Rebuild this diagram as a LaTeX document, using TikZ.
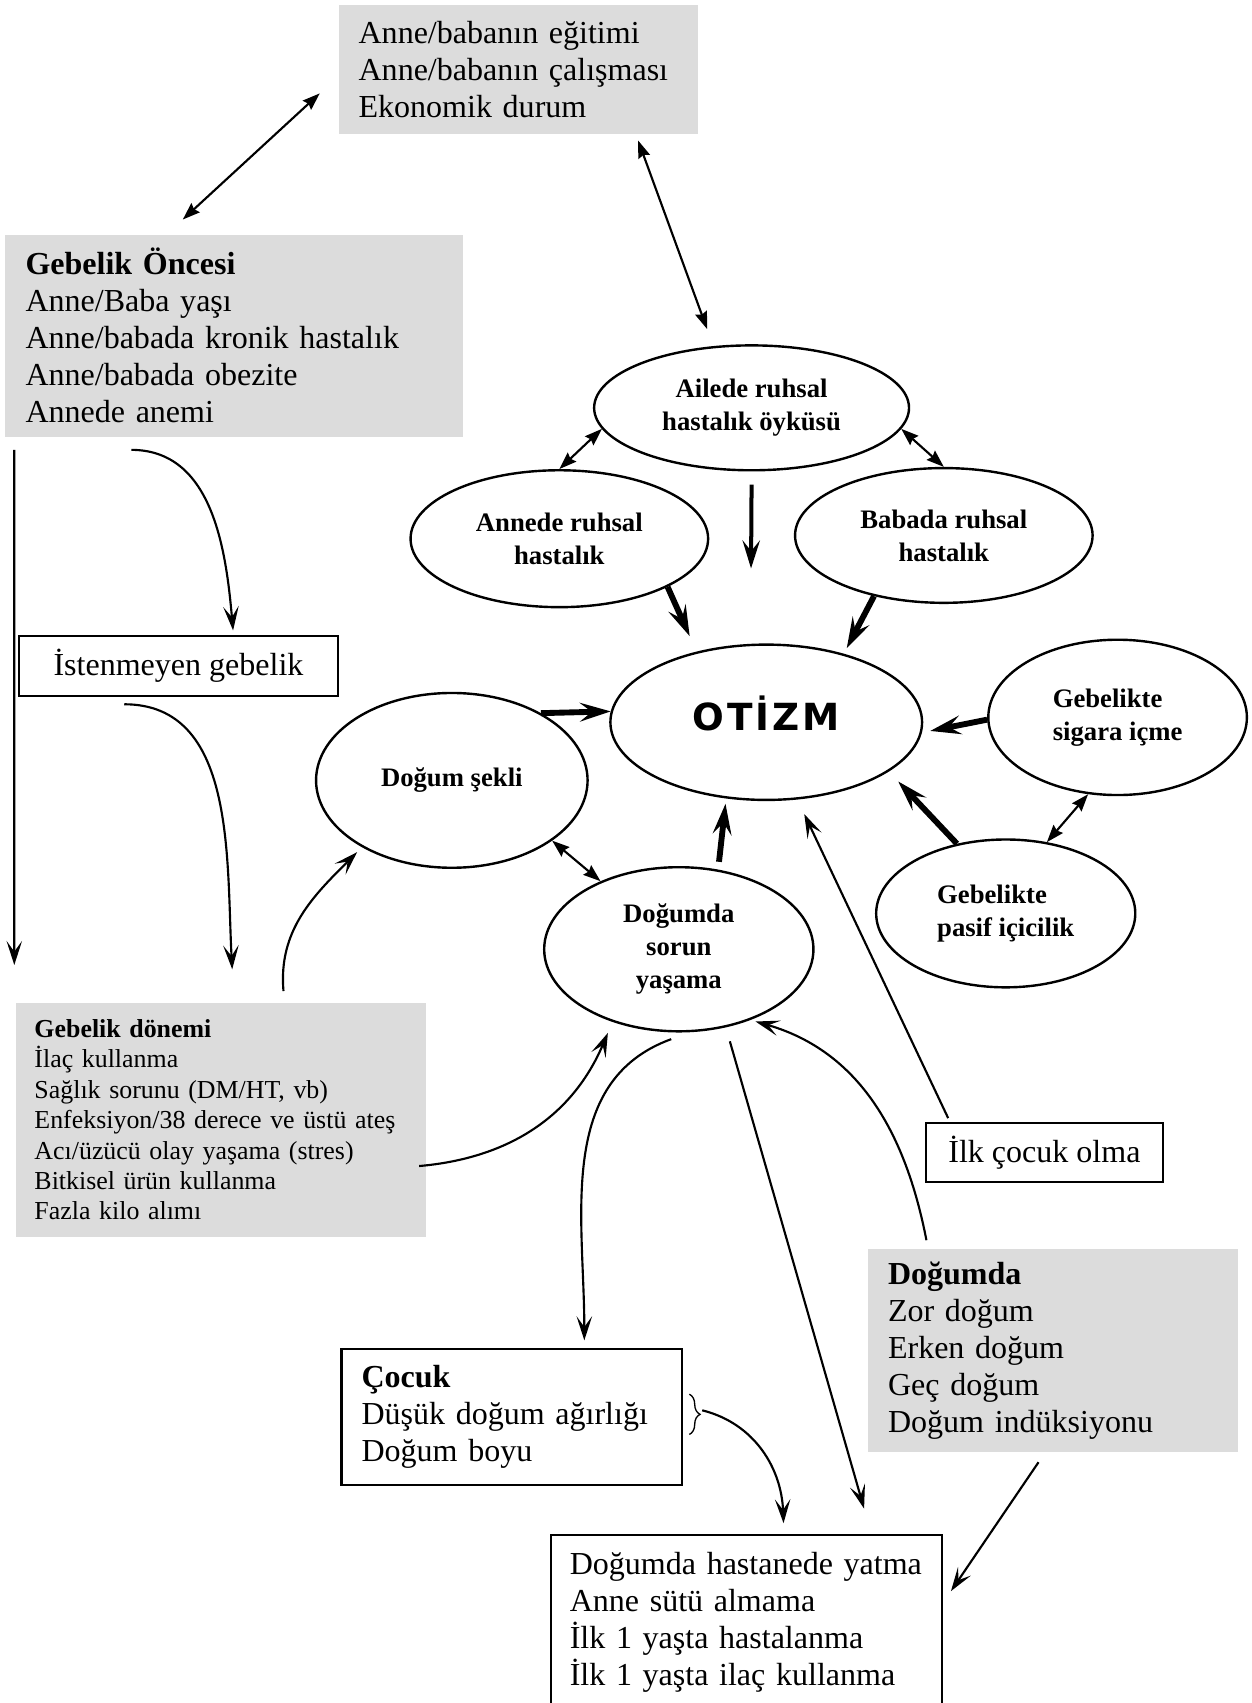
\documentclass[tikz,border=0pt]{standalone}
\usepackage{fontspec}
\setmainfont{Liberation Serif}
\newfontfamily\otizmfont[LetterSpace=8]{DejaVu Sans}
\usepackage{tikz}
\usetikzlibrary{shapes.geometric,arrows.meta,decorations.pathreplacing}
\definecolor{boxgray}{RGB}{220,220,220}
\newcommand{\pxu}{0.407pt}

\begin{document}
\begin{tikzpicture}[x=\pxu, y=\pxu,
  graybox/.style={fill=boxgray, inner xsep=7.5pt, inner ysep=0pt, align=left,
    font=\fontsize{12}{13.84}\selectfont},
  linebox/.style={draw, line width=0.8pt, inner sep=0pt,
    font=\fontsize{12}{13.84}\selectfont},
  oval/.style={ellipse, draw, line width=0.9pt, inner sep=0pt, align=center,
    font=\fontsize{10}{12.4}\selectfont\bfseries},
  twoway/.style={{Stealth[length=6.5pt,width=4.6pt,inset=0.8pt]}-{Stealth[length=6.5pt,width=4.6pt,inset=0.8pt]},
    line width=0.8pt},
  boldarrow/.style={-{Stealth[length=11.5pt,width=7pt,inset=4.4pt]}, line width=2.2pt},
  flow/.style={-{Stealth[length=9pt,width=5.8pt,inset=4pt]}, line width=0.8pt}]

  \useasboundingbox (0,0) rectangle (1152,-1568);

  % Boxes

  \node[graybox, text width=119.5pt, minimum height=48.4pt] (aile) at (477,-64.2)
    {Anne/babanın eğitimi\\Anne/babanın çalışması\\Ekonomik durum};
  \node[graybox, text width=156.3pt, minimum height=75.7pt] (oncesi) at (215.5,-309)
    {\textbf{Gebelik Öncesi}\\Anne/Baba yaşı\\Anne/babada kronik hastalık\\Anne/babada obezite\\Annede anemi};
  \node[linebox, minimum width=119.7pt, minimum height=22.5pt] (istenmeyen) at (164.3,-613.3)
    {İstenmeyen gebelik};
  \node[graybox, inner xsep=7pt, text width=139.8pt, minimum height=87.7pt,
    font=\fontsize{9.7}{11.4}\selectfont] (donem) at (203.5,-1031)
    {\textbf{Gebelik dönemi}\\İlaç kullanma\\Sağlık sorunu (DM/HT, vb)\\Enfeksiyon/38 derece ve üstü ateş\\Acı/üzücü olay yaşama (stres)\\Bitkisel ürün kullanma\\Fazla kilo alımı};
  \node[linebox, minimum width=89pt, minimum height=22.1pt] (ilkcocuk) at (961.6,-1061.2)
    {İlk çocuk olma};
  \node[graybox, text width=123.7pt, minimum height=76.1pt] (dogumda) at (969.6,-1243.5)
    {\textbf{Doğumda}\\Zor doğum\\Erken doğum\\Geç doğum\\Doğum indüksiyonu};
  \node[linebox, align=left, inner xsep=7.5pt, text width=112.5pt, minimum height=51pt] (cocuk) at (471.1,-1304.7)
    {\textbf{Çocuk}\\Düşük doğum ağırlığı\\Doğum boyu};
  \node[linebox, align=left, inner xsep=7pt, text width=132.5pt, minimum height=65.5pt] (sonuc) at (687.4,-1494)
    {Doğumda hastanede yatma\\Anne sütü almama\\İlk 1 yaşta hastalanma\\İlk 1 yaşta ilaç kullanma};

  % Ellipses

  \node[oval, minimum width=118pt, minimum height=46.8pt] (ailede) at (692,-375.5)
    {Ailede ruhsal\\hastalık öyküsü};
  \node[oval, minimum width=111.5pt, minimum height=51.3pt] (annede) at (515,-496)
    {Annede ruhsal\\hastalık};
  \node[oval, minimum width=111.5pt, minimum height=50.5pt] (babada) at (869,-493)
    {Babada ruhsal\\hastalık};
  \node[oval, minimum width=116.8pt, minimum height=58.2pt,
    font=\otizmfont\bfseries\fontsize{14}{16}\selectfont] (otizm) at (705.5,-665)
    {\raisebox{6.5pt}{OTİZM}};
  \node[oval, minimum width=96.9pt, minimum height=58.2pt] (sigara) at (1029,-660.5)
    {\raisebox{4.3pt}{\begin{tabular}{@{}l@{}}Gebelikte\\sigara içme\end{tabular}}};
  \node[oval, minimum width=101.75pt, minimum height=65.5pt] (sekil) at (416,-718.5)
    {Doğum şekli};
  \node[oval, minimum width=100.9pt, minimum height=61.5pt] (sorun) at (625,-874)
    {Doğumda\\sorun\\yaşama};
  \node[oval, minimum width=97.1pt, minimum height=55.4pt] (pasif) at (926,-841)
    {\raisebox{3.7pt}{\begin{tabular}{@{}l@{}}Gebelikte\\pasif içicilik\end{tabular}}};

  % Two-way links

  \draw[twoway] ([shift={(-16.9,-21.8)}]aile.west) -- ([shift={(-47.2,13.4)}]oncesi.north);
  \draw[twoway] ([shift={(110.6,-5.3)}]aile.south) -- ([shift={(-41,14)}]ailede.north);
  \draw[twoway] (ailede.188) -- (annede.north);
  \draw[twoway] (ailede.352) -- (babada.north);
  \draw[twoway] (sigara.249) -- (pasif.60);
  \draw[twoway] (sekil.329) -- (sorun.139);

  % Into OTIZM

  \draw[boldarrow] (sekil.37) -- (otizm.176);
  \draw[-{Stealth[length=10.5pt,width=6.5pt,inset=4pt]}, line width=1.5pt]
    ([shift={(0,-12)}]ailede.south) -- ([shift={(-14,69)}]otizm.north);
  \draw[boldarrow] (annede.336) -- ([shift={(-70.5,79.3)}]otizm.center);
  \draw[boldarrow] (babada.221) -- ([shift={(74.1,68.2)}]otizm.center);
  \draw[boldarrow] (sigara.181) -- ([shift={(151,-8)}]otizm.center);
  \draw[boldarrow] (pasif.125) -- ([shift={(121.5,-54.5)}]otizm.center);
  \draw[boldarrow] ([shift={(37,80.5)}]sorun.center) -- ([shift={(-37.5,-75)}]otizm.center);
  \draw[flow] ([shift={(-88.6,3.6)}]ilkcocuk.north) -- ([shift={(35,-84.5)}]otizm.center);

  % Left column

  \draw[flow] ([shift={(8.5,-11.6)}]oncesi.south west) -- ([shift={(-0.9,34.3)}]donem.north west);
  \draw[flow] ([shift={(116.3,-11.7)}]oncesi.south west) to[out=0, in=95] ([shift={(50.3,4.2)}]istenmeyen.north);
  \draw[flow] ([shift={(-49.9,-6.5)}]istenmeyen.south) to[out=0, in=93] ([shift={(10.3,30.3)}]donem.north);
  \draw[flow] ([shift={(57.5,10.3)}]donem.north) to[out=95, in=225] ([shift={(-87.2,-66.1)}]sekil.center);
  \draw[flow] ([shift={(-7,-42.6)}]donem.east) to[out=5, in=247] ([shift={(-65.3,-77)}]sorun.center);

  % Lower part

  \draw[flow] ([shift={(-7,-6.1)}]sorun.south) to[out=200, in=90] ([shift={(66.9,7)}]cocuk.north);
  \draw[flow] ([shift={(47,-8.1)}]sorun.south) -- ([shift={(108.2,23.5)}]sonuc.north);
  \draw[flow] ([shift={(-116.6,7.6)}]dogumda.north) to[out=101, in=-16] ([shift={(70.6,-66.5)}]sorun.center);
  \draw[decorate, decoration={brace, amplitude=4pt}, line width=0.5pt]
    ([shift={(6,21)}]cocuk.east) -- ([shift={(6,-16)}]cocuk.east);
  \draw[flow] ([shift={(17.8,6.2)}]cocuk.east) to[out=-14, in=92] ([shift={(34,10.1)}]sonuc.north);
  \draw[flow] ([shift={(-13.4,-8.8)}]dogumda.south) -- ([shift={(7.2,29)}]sonuc.east);

\end{tikzpicture}
\end{document}
